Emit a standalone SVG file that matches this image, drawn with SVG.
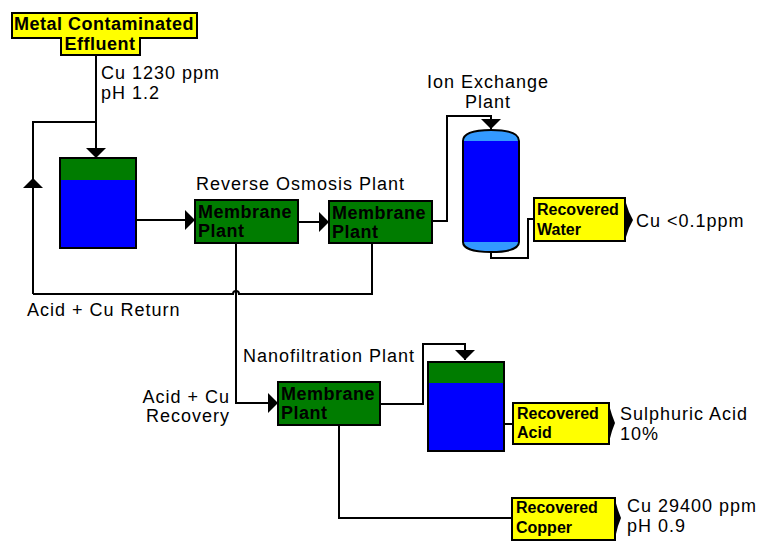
<svg xmlns="http://www.w3.org/2000/svg" width="773" height="541" viewBox="0 0 773 541">
<style>
.ln{fill:none;stroke:#000;stroke-width:2}
.box{stroke:#000;stroke-width:2}
.yel{fill:#ffff00}
.grn{fill:#007c00}
.blu{fill:#0000ff}
.lb{fill:#3399ff}
.t{font-family:"Liberation Sans",Arial,sans-serif;font-size:18px;letter-spacing:1px;fill:#000}
.tb{font-family:"Liberation Sans",Arial,sans-serif;font-size:18px;font-weight:bold;letter-spacing:0.5px;fill:#000}
.ty{font-family:"Liberation Sans",Arial,sans-serif;font-size:16px;font-weight:bold;fill:#000}
</style>
<defs>
<marker id="ah" markerUnits="userSpaceOnUse" markerWidth="10" markerHeight="20" refX="10" refY="10" orient="auto" viewBox="0 0 10 20">
<path d="M0,0 L10,10 L0,20 Z" fill="#000"/>
</marker>
</defs>
<rect width="773" height="541" fill="#fff"/>

<g id="connectors">
<path class="ln" d="M96,55 V158" marker-end="url(#ah)"/>
<path class="ln" d="M33,294 V178" marker-end="url(#ah)"/>
<path class="ln" d="M33,178 V122 H96"/>
<path class="ln" d="M136,220 H195" marker-end="url(#ah)"/>
<path class="ln" d="M298,222 H329" marker-end="url(#ah)"/>
<path class="ln" d="M432,221 H447 V116 H491 V129" marker-end="url(#ah)"/>
<path class="ln" d="M491,252 V258 H528 V219 H534"/>
<path class="ln" d="M372,243 V294 H239 A3,3 0 0 0 233,294 H33"/>
<path class="ln" d="M236,243 V403 H278" marker-end="url(#ah)"/>
<path class="ln" d="M380,404 H423 V344 H465 V360" marker-end="url(#ah)"/>
<path class="ln" d="M504,424 H513"/>
<path class="ln" d="M339,425 V518 H512"/>
</g>

<g id="effluent">
<path class="box yel" d="M12,13 H197 V38 H140 V55 H61 V38 H12 Z"/>
<text class="tb" x="104" y="30" text-anchor="middle">Metal Contaminated</text>
<text class="tb" x="100" y="50" text-anchor="middle">Effluent</text>
</g>
<text class="t" x="101" y="79">Cu 1230 ppm</text>
<text class="t" x="101" y="99">pH 1.2</text>

<g id="tank1">
<rect class="box blu" x="60" y="158" width="76" height="90"/>
<rect class="grn" x="61" y="159" width="74" height="21"/>
</g>

<text class="t" x="196" y="190">Reverse Osmosis Plant</text>
<g id="membrane1">
<rect class="box grn" x="195" y="200" width="103" height="43"/>
<text class="tb" x="198" y="218">Membrane</text>
<text class="tb" x="198" y="237">Plant</text>
</g>
<g id="membrane2">
<rect class="box grn" x="329" y="201" width="103" height="42"/>
<text class="tb" x="332" y="219">Membrane</text>
<text class="tb" x="332" y="238">Plant</text>
</g>

<text class="t" x="488" y="88" text-anchor="middle">Ion Exchange</text>
<text class="t" x="488" y="108" text-anchor="middle">Plant</text>
<g id="ionexchange">
<path class="lb" d="M463,141 C463,133 475,130 491,130 C507,130 519,133 519,141 Z"/>
<rect class="blu" x="463" y="141" width="56" height="101"/>
<path class="lb" d="M463,242 C463,249 475,252 491,252 C507,252 519,249 519,242 Z"/>
<path class="ln" d="M463,141 C463,133 475,130 491,130 C507,130 519,133 519,141 V242 C519,249 507,252 491,252 C475,252 463,249 463,242 Z"/>
</g>

<g id="water">
<rect class="box yel" x="534" y="198" width="91" height="43"/>
<path d="M625,200 L629,212 L633,220 L629,228 L625,240 Z" fill="#000"/>
<text class="ty" x="537" y="215">Recovered</text>
<text class="ty" x="537" y="235">Water</text>
</g>
<text class="t" x="636" y="227">Cu &lt;0.1ppm</text>

<text class="t" x="27" y="316">Acid + Cu Return</text>
<text class="t" x="243" y="362">Nanofiltration Plant</text>
<text class="t" x="230" y="403" text-anchor="end">Acid + Cu</text>
<text class="t" x="230" y="422" text-anchor="end">Recovery</text>

<g id="membrane3">
<rect class="box grn" x="278" y="382" width="102" height="43"/>
<text class="tb" x="281" y="400">Membrane</text>
<text class="tb" x="281" y="419">Plant</text>
</g>

<g id="tank2">
<rect class="box blu" x="428" y="362" width="76" height="89"/>
<rect class="grn" x="429" y="363" width="74" height="20"/>
</g>

<g id="acid">
<rect class="box yel" x="513" y="403" width="96" height="41"/>
<path d="M609,405 L612,415 L615,423 L612,431 L609,442 Z" fill="#000"/>
<text class="ty" x="517" y="419">Recovered</text>
<text class="ty" x="517" y="438">Acid</text>
</g>
<text class="t" x="620" y="420">Sulphuric Acid</text>
<text class="t" x="620" y="440">10%</text>

<g id="copper">
<rect class="box yel" x="512" y="498" width="103" height="42"/>
<path d="M615,500 L618,510 L621,518 L618,526 L615,538 Z" fill="#000"/>
<text class="ty" x="516" y="513">Recovered</text>
<text class="ty" x="516" y="533">Copper</text>
</g>
<text class="t" x="627" y="512">Cu 29400 ppm</text>
<text class="t" x="627" y="532">pH 0.9</text>
</svg>
